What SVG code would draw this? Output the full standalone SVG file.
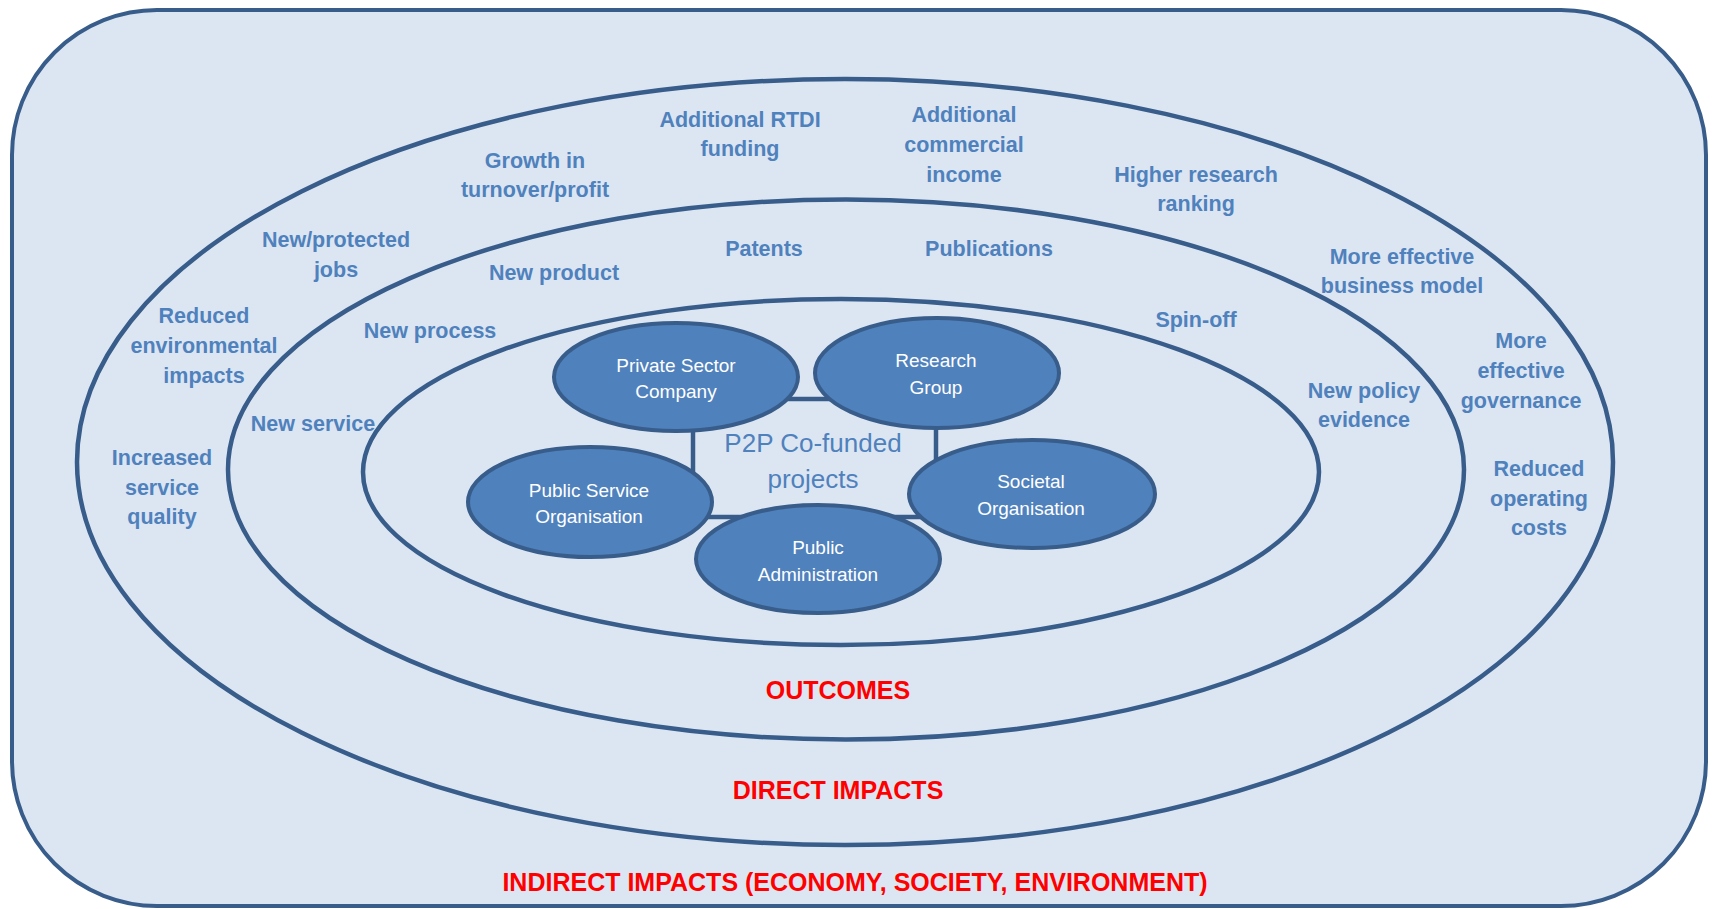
<svg xmlns="http://www.w3.org/2000/svg" width="1717" height="909" viewBox="0 0 1717 909">
<style>
.ring{fill:none;stroke:#385D8A;stroke-width:4.5}
.lbl{font-family:"Liberation Sans",Arial,sans-serif;font-weight:bold;font-size:21.5px;fill:#4F81BD;text-anchor:middle}
.red{font-family:"Liberation Sans",Arial,sans-serif;font-weight:bold;font-size:25px;fill:#FF0000;text-anchor:middle}
.node ellipse{fill:#4F81BD;stroke:#385D8A;stroke-width:4}
.nt{font-family:"Liberation Sans",Arial,sans-serif;font-size:19px;fill:#FFFFFF;text-anchor:middle}
.p2p{font-family:"Liberation Sans",Arial,sans-serif;font-size:26px;fill:#4F81BD;text-anchor:middle}
.conn{fill:none;stroke:#385D8A;stroke-width:4.5}
</style>
<rect id="frame" x="12" y="10" width="1694" height="896" rx="145" ry="145" fill="#DCE6F2" stroke="#385D8A" stroke-width="4"/>
<g id="rings">
<ellipse class="ring" cx="845" cy="462" rx="768" ry="383"/>
<ellipse class="ring" cx="846" cy="469.5" rx="618" ry="270"/>
<ellipse class="ring" cx="841" cy="472" rx="478" ry="173"/>
</g>
<g id="labels">
<text class="lbl" x="740" y="127"><tspan x="740">Additional RTDI</tspan><tspan x="740" dy="29">funding</tspan></text>
<text class="lbl" x="535" y="168"><tspan x="535">Growth in</tspan><tspan x="535" dy="29">turnover/profit</tspan></text>
<text class="lbl" x="964" y="122"><tspan x="964">Additional</tspan><tspan x="964" dy="30">commercial</tspan><tspan x="964" dy="30">income</tspan></text>
<text class="lbl" x="1196" y="182"><tspan x="1196">Higher research</tspan><tspan x="1196" dy="29">ranking</tspan></text>
<text class="lbl" x="336" y="247"><tspan x="336">New/protected</tspan><tspan x="336" dy="30">jobs</tspan></text>
<text class="lbl" x="204" y="323"><tspan x="204">Reduced</tspan><tspan x="204" dy="30">environmental</tspan><tspan x="204" dy="30">impacts</tspan></text>
<text class="lbl" x="162" y="465"><tspan x="162">Increased</tspan><tspan x="162" dy="30">service</tspan><tspan x="162" dy="29">quality</tspan></text>
<text class="lbl" x="1402" y="264"><tspan x="1402">More effective</tspan><tspan x="1402" dy="29">business model</tspan></text>
<text class="lbl" x="1521" y="348"><tspan x="1521">More</tspan><tspan x="1521" dy="30">effective</tspan><tspan x="1521" dy="30">governance</tspan></text>
<text class="lbl" x="1539" y="476"><tspan x="1539">Reduced</tspan><tspan x="1539" dy="30">operating</tspan><tspan x="1539" dy="29">costs</tspan></text>
<text class="lbl" x="554" y="280">New product</text>
<text class="lbl" x="764" y="256">Patents</text>
<text class="lbl" x="989" y="256">Publications</text>
<text class="lbl" x="430" y="338">New process</text>
<text class="lbl" x="313" y="431">New service</text>
<text class="lbl" x="1196" y="327">Spin-off</text>
<text class="lbl" x="1364" y="398"><tspan x="1364">New policy</tspan><tspan x="1364" dy="29">evidence</tspan></text>
<text class="red" x="838" y="699">OUTCOMES</text>
<text class="red" x="838" y="799">DIRECT IMPACTS</text>
<text class="red" x="855" y="891">INDIRECT IMPACTS (ECONOMY, SOCIETY, ENVIRONMENT)</text>
</g>
<g id="connectors">
<rect class="conn" x="693" y="399" width="243" height="118"/>
</g>
<text id="center-label" class="p2p" x="813" y="452"><tspan x="813">P2P Co-funded</tspan><tspan x="813" dy="36">projects</tspan></text>
<g id="node-private" class="node">
<ellipse cx="676" cy="377" rx="122" ry="54"/>
<text class="nt" x="676" y="372"><tspan x="676">Private Sector</tspan><tspan x="676" dy="26">Company</tspan></text>
</g>
<g id="node-research" class="node">
<ellipse cx="937" cy="373" rx="122" ry="55"/>
<text class="nt" x="936" y="367"><tspan x="936">Research</tspan><tspan x="936" dy="27">Group</tspan></text>
</g>
<g id="node-societal" class="node">
<ellipse cx="1032" cy="494" rx="123" ry="54"/>
<text class="nt" x="1031" y="488"><tspan x="1031">Societal</tspan><tspan x="1031" dy="27">Organisation</tspan></text>
</g>
<g id="node-publicservice" class="node">
<ellipse cx="590" cy="502" rx="122" ry="55"/>
<text class="nt" x="589" y="497"><tspan x="589">Public Service</tspan><tspan x="589" dy="26">Organisation</tspan></text>
</g>
<g id="node-publicadmin" class="node">
<ellipse cx="818" cy="559" rx="122" ry="54"/>
<text class="nt" x="818" y="554"><tspan x="818">Public</tspan><tspan x="818" dy="27">Administration</tspan></text>
</g>
</svg>
